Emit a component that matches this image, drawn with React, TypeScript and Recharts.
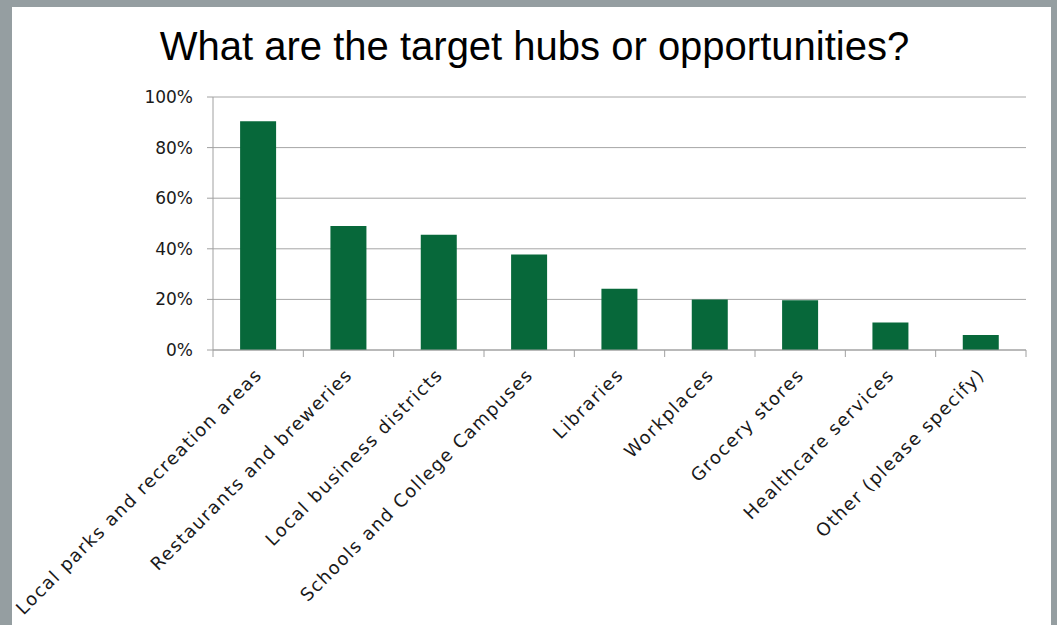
import React from 'react';
import { BarChart, Bar, XAxis, YAxis, CartesianGrid } from 'recharts';

const categories = [
  'Local parks and recreation areas',
  'Restaurants and breweries',
  'Local business districts',
  'Schools and College Campuses',
  'Libraries',
  'Workplaces',
  'Grocery stores',
  'Healthcare services',
  'Other (please specify)',
];
const values = [90.4, 49.0, 45.6, 37.7, 24.2, 20.0, 19.7, 10.9, 5.9];
const yTicks = [0, 20, 40, 60, 80, 100];
const title = 'What are the target hubs or opportunities?';

const data = categories.map((name, i) => ({ name, value: values[i] }));

const W = 1057;
const H = 625;
const M = { top: 97, right: 31, left: 153, bottom: 0 };
const Y_W = 60;
const PLOT_W = W - M.left - M.right - Y_W;
const BAND = PLOT_W / categories.length;
const LABEL_FONT = "'DejaVu Sans', sans-serif";

const XTick = (props: any) => {
  const { x, y, payload, index } = props;
  const left = x - BAND / 2;
  const right = x + BAND / 2;
  const ax = x + 5;
  const ay = y + 26;
  return (
    <g>
      <line x1={left} y1={y} x2={left} y2={y + 7} stroke="#a0a0a0" strokeWidth={1} />
      {index === categories.length - 1 && (
        <line x1={right} y1={y} x2={right} y2={y + 7} stroke="#a0a0a0" strokeWidth={1} />
      )}
      <text
        x={ax}
        y={ay}
        textAnchor="end"
        transform={`rotate(-45 ${ax} ${ay})`}
        fontFamily={LABEL_FONT}
        fontSize={18}
        letterSpacing={1.4}
        fill="#1a1a1a"
      >
        {payload.value}
      </text>
    </g>
  );
};

export default function App() {
  return (
    <div style={{ position: 'absolute', left: 0, top: 0, width: W, height: H, background: '#959ea1', overflow: 'hidden' }}>
      <div style={{ position: 'absolute', left: 12, top: 7, width: 1039, height: H - 7, background: '#ffffff' }} />
      <div
        style={{
          position: 'absolute',
          left: 0,
          top: 21,
          width: W,
          textAlign: 'center',
          fontFamily: "'Liberation Sans', Arial, sans-serif",
          fontSize: 40,
          color: '#000',
          lineHeight: '50px',
          paddingLeft: 12,
          boxSizing: 'border-box',
        }}
      >
        {title}
      </div>
      <div style={{ position: 'absolute', left: 0, top: 0 }}>
        <BarChart width={W} height={H} data={data} margin={M} barCategoryGap="30%">
          <CartesianGrid vertical={false} stroke="#a6a6a6" strokeWidth={1} />
          <XAxis
            dataKey="name"
            interval={0}
            height={275}
            tickLine={false}
            tickSize={0}
            tickMargin={0}
            axisLine={{ stroke: '#a0a0a0', strokeWidth: 1 }}
            tick={<XTick />}
          />
          <YAxis
            width={Y_W}
            domain={[0, 100]}
            ticks={yTicks}
            interval={0}
            tickFormatter={(v: number) => `${v}%`}
            axisLine={{ stroke: '#a0a0a0', strokeWidth: 1 }}
            tickLine={{ stroke: '#a0a0a0', strokeWidth: 1 }}
            tickSize={6}
            tickMargin={14}
            tick={{ fontFamily: LABEL_FONT, fontSize: 17, fill: '#1a1a1a' }}
          />
          <Bar dataKey="value" fill="#07683a" isAnimationActive={false} />
        </BarChart>
      </div>
    </div>
  );
}
